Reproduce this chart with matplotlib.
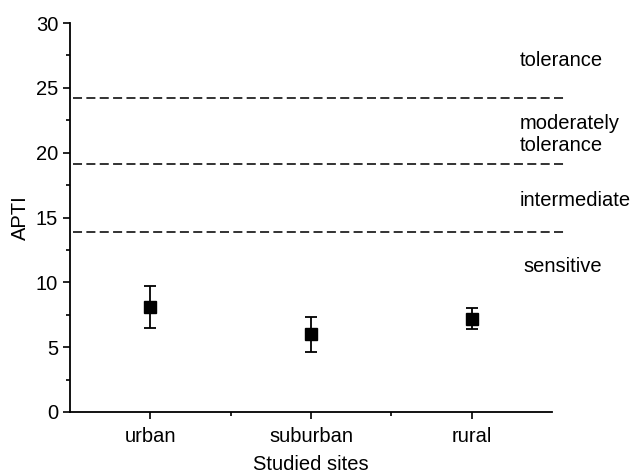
import matplotlib
matplotlib.use("Agg")
import matplotlib.pyplot as plt
from matplotlib.ticker import MultipleLocator, FixedLocator

sites = ["urban", "suburban", "rural"]
apti_mean = [8.1, 6.0, 7.2]
err_low = [6.5, 4.6, 6.4]
err_high = [9.75, 7.35, 8.0]
thresholds = [24.2, 19.1, 13.9]
zone_labels = ["tolerance", "moderately\ntolerance", "intermediate", "sensitive"]
zone_label_y = [27.1, 21.4, 16.35, 11.2]

plt.rcParams['font.family'] = ['Liberation Sans', 'DejaVu Sans']

fig = plt.figure(figsize=(6.33, 4.76), dpi=100)
ax = fig.add_axes([0.1106, 0.1345, 0.7614, 0.817])

x = list(range(1, len(sites) + 1))
yerr = [[m - lo for m, lo in zip(apti_mean, err_low)],
        [hi - m for m, hi in zip(apti_mean, err_high)]]
ax.errorbar(x, apti_mean, yerr=yerr, fmt='s', color='black', ms=8,
            ecolor='black', elinewidth=1.3, capsize=4, capthick=1.3, zorder=3)

for t in thresholds:
    ax.plot([0.52, 3.59], [t, t], color='#222222', lw=1.3,
            dashes=(5, 2.4), clip_on=False)

for lab, yy in zip(zone_labels, zone_label_y):
    xx = 3.32 if lab == "sensitive" else 3.3
    ax.text(xx, yy, lab, fontsize=14.5, ha='left', va='center',
            linespacing=1.25, clip_on=False)

ax.set_xlim(0.5, 3.5)
ax.set_ylim(0, 30)
ax.set_xticks(x)
ax.set_xticklabels(sites, fontsize=14.5)
ax.xaxis.set_minor_locator(FixedLocator([1.5, 2.5]))
ax.yaxis.set_major_locator(MultipleLocator(5))
ax.yaxis.set_minor_locator(MultipleLocator(2.5))
ax.tick_params(axis='both', which='major', direction='out', length=5, width=1.2, labelsize=14.5)
ax.tick_params(axis='x', which='major', pad=5.5)
ax.tick_params(axis='both', which='minor', direction='out', length=3, width=1.2)
ax.set_xlabel("Studied sites", fontsize=14.5, labelpad=7)
ax.set_ylabel("APTI", fontsize=14.5, labelpad=4)
for s in ['top', 'right']:
    ax.spines[s].set_visible(False)
for s in ['left', 'bottom']:
    ax.spines[s].set_linewidth(1.3)

fig.savefig("out.png", dpi=100)
